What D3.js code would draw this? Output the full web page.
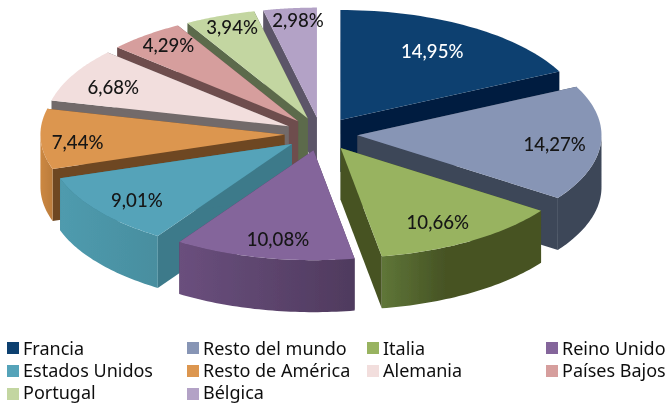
<!DOCTYPE html>
<html><head><meta charset="utf-8">
<style>html,body{margin:0;padding:0;background:#fff}svg{display:block}</style>
<script src="https://cdn.jsdelivr.net/npm/d3@7"></script></head><body>
<svg id="c" width="668" height="404"></svg>
<script>
const categories=["Francia","Resto del mundo","Italia","Reino Unido","Estados Unidos","Resto de América","Alemania","Países Bajos","Portugal","Bélgica"];
const values=[14.95,14.27,10.66,10.08,9.01,7.44,6.68,4.29,3.94,2.98];
const topColors=["#11406f","#8795b5","#98b360","#84659b","#54a3b9","#dc9650","#f2dedd","#d69e9d","#c3d6a1","#b3a2c6"];
const sideDark=["#031d3f","#3c4658","#465324","#4f3a5e","#3e7a8a","#6e4722","#726a6a","#6e4e4e","#5c6a4c","#5c5468"];
const sideLight=["#031d3f","#3c4658","#5f7638","#6a4f7d","#4f9bae","#cc8842","#b8a8a8","#9c7272","#8c9c70","#857898"];
const labelReach=[.72,.81,.78,.81,.80,.84,.79,.856,.86,.885];
const labelNudgeX=[-1,0,-5,5,0,-2,-5,1,0,5];
const labelNudgeY=[-1,3,2,2,3,4,2,-2,-3,0];

const cx=321,cy=134,rx=244,ry=110,depth=52,explode=.15;
const svg=d3.select("#c");
const defs=svg.append("defs");
defs.append("filter").attr("id","soft").attr("x","-5%").attr("y","-5%").attr("width","110%").attr("height","110%")
  .append("feGaussianBlur").attr("stdDeviation",.45);
defs.append("filter").attr("id","softText").attr("x","-5%").attr("y","-5%").attr("width","110%").attr("height","110%")
  .append("feGaussianBlur").attr("stdDeviation",.35);

const sx=d3.scaleLinear().domain([-1,1]).range([cx-rx,cx+rx]);
const sy=d3.scaleLinear().domain([-1,1]).range([cy-ry,cy+ry]);
const pie=d3.pie().sort(null).value(d=>d).startAngle(0).endAngle(2*Math.PI);
const arcs=pie(values).map((a,i)=>{
  const mid=(a.startAngle+a.endAngle)/2;
  return {i,start:a.startAngle,end:a.endAngle,mid,ox:explode*Math.sin(mid),oz:-explode*Math.cos(mid)};
});
const line=d3.line().x(p=>p[0]).y(p=>p[1]);
const polar=(s,r,t,down=0)=>[sx(s.ox+r*Math.sin(t)),sy(s.oz-r*Math.cos(t))+down];
const sweep=(s,a,b,down=0)=>d3.range(0,41).map(k=>polar(s,1,a+(b-a)*k/40,down));

const g=svg.append("g").attr("filter","url(#soft)");
arcs.slice().sort((a,b)=>d3.ascending(a.oz,b.oz)).forEach(s=>{
  const i=s.i;
  const apex=polar(s,0,0),apexD=polar(s,0,0,depth);
  [s.start,s.end].forEach(t=>{
    g.append("path").attr("d",line([apex,polar(s,1,t),polar(s,1,t,depth),apexD])+"Z").attr("fill",sideDark[i]);
  });
  // only the part of the rim that faces the viewer
  const a=Math.max(s.start,Math.PI/2),b=Math.min(s.end,3*Math.PI/2);
  if(b>a){
    const rimTop=sweep(s,a,b),rimBot=sweep(s,a,b,depth).reverse();
    const xs=rimTop.map(p=>p[0]);
    const gid="w"+i;
    const lg=defs.append("linearGradient").attr("id",gid).attr("gradientUnits","userSpaceOnUse")
      .attr("x1",d3.min(xs)).attr("x2",d3.max(xs)).attr("y1",0).attr("y2",0);
    lg.append("stop").attr("offset",0).attr("stop-color",sideLight[i]);
    if(i===2) lg.append("stop").attr("offset",.4).attr("stop-color",sideDark[i]);
    lg.append("stop").attr("offset",1).attr("stop-color",(i===4||i===5)?d3.color(sideLight[i]).darker(.25):sideDark[i]);
    g.append("path").attr("d",line(rimTop.concat(rimBot))+"Z").attr("fill",`url(#${gid})`);
  }
  g.append("path").attr("d",line([apex].concat(sweep(s,s.start,s.end)))+"Z").attr("fill",topColors[i]);
});

const fmt=v=>v.toFixed(2).replace(".",",")+"%";
const tg=svg.append("g").attr("filter","url(#softText)");
arcs.forEach(s=>{
  const p=polar(s,labelReach[s.i],s.mid);
  tg.append("text").attr("x",p[0]+labelNudgeX[s.i]).attr("y",p[1]+labelNudgeY[s.i]).attr("dy",".35em").attr("text-anchor","middle")
    .attr("font-family","Lato").attr("font-size",18.6).attr("font-weight",500)
    .attr("fill",s.i===0?"#ffffff":"#141414").text(fmt(values[s.i]));
});

const legX=[7,187,367,546],swatchY=[348,371,394],baseY=[355,377,399];
categories.forEach((c,i)=>{
  const x=legX[i%4],r=Math.floor(i/4);
  tg.append("rect").attr("x",x).attr("y",swatchY[r]-6).attr("width",12).attr("height",12).attr("fill",topColors[i]);
  tg.append("text").attr("x",x+16).attr("y",baseY[r])
    .attr("font-family","Noto Sans").attr("font-size",18).attr("fill","#111").text(c);
});
</script></body></html>
